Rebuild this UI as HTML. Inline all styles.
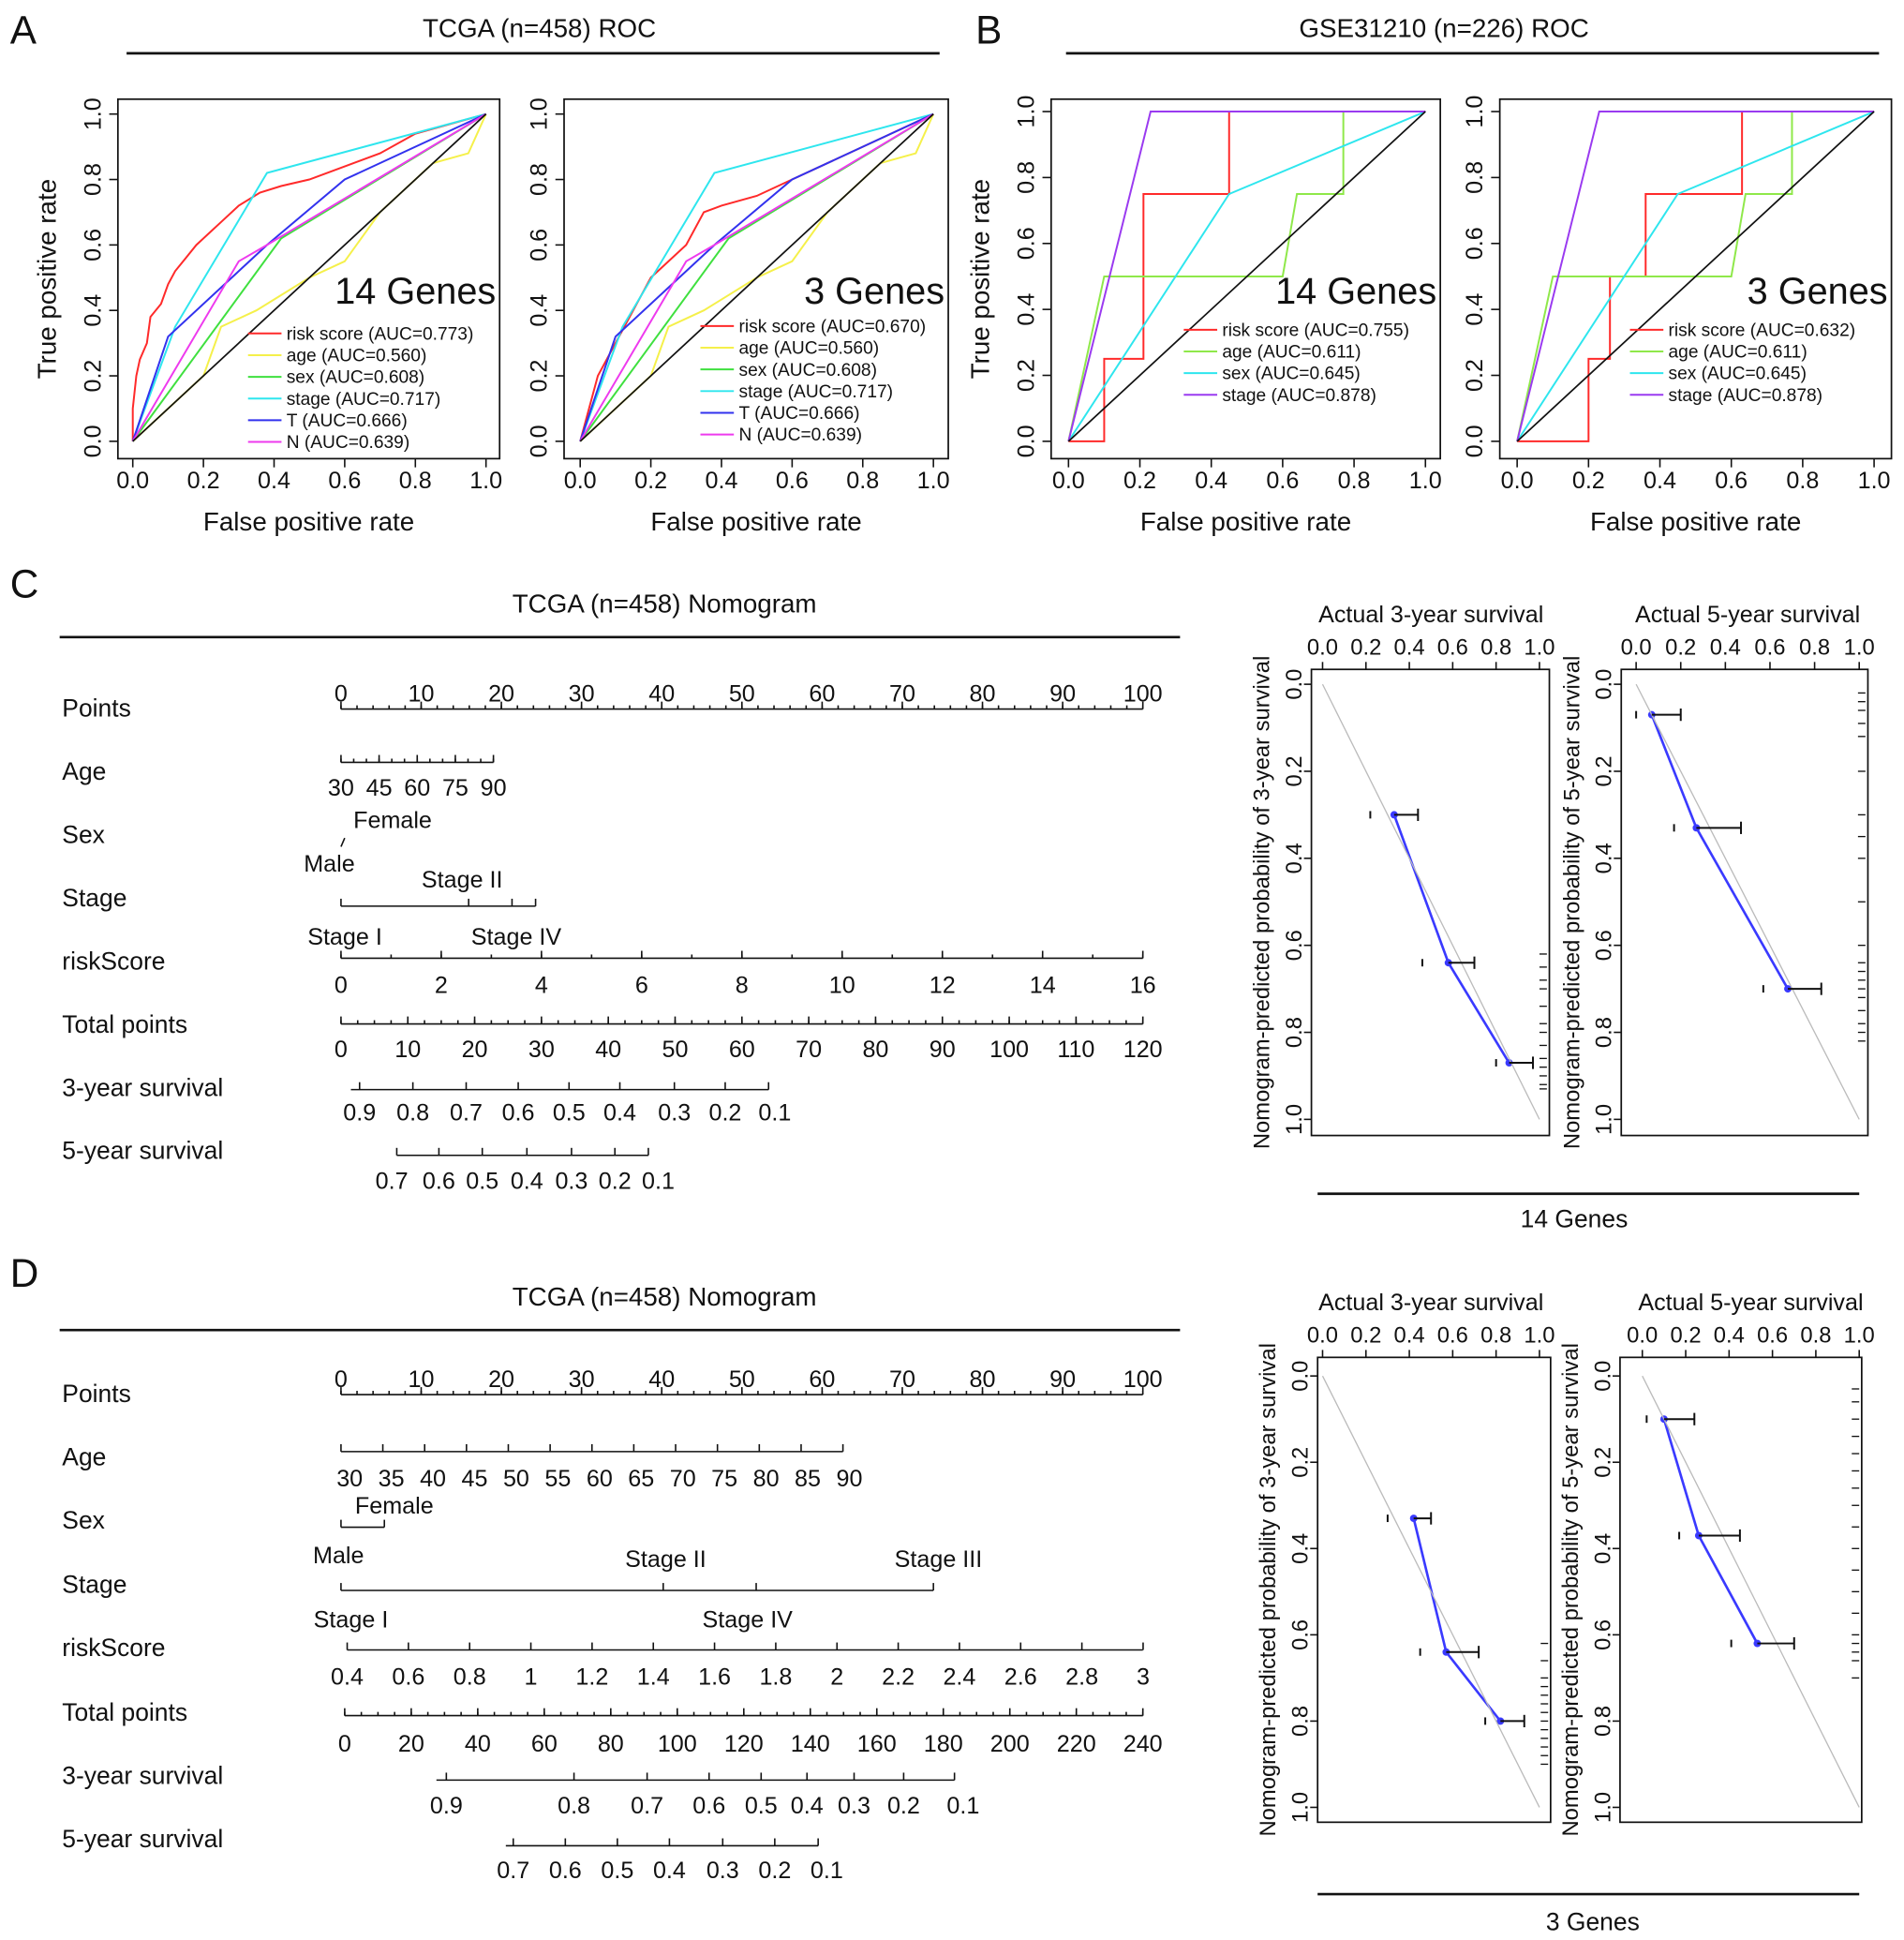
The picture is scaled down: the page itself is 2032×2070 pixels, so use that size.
<!DOCTYPE html>
<html><head><meta charset="utf-8"><style>
html,body{margin:0;padding:0;background:#fff}
svg{display:block}
text{font-family:"Liberation Sans",Arial,sans-serif;fill:#111}
</style></head><body>
<svg id="fig" width="2032" height="2070" viewBox="0 0 1536 1565" xmlns="http://www.w3.org/2000/svg"></svg>
<script>
// ===== ROC data =====
const rocRisk1=[[0,0],[0,0.1],[0.01,0.2],[0.02,0.25],[0.04,0.3],[0.05,0.38],[0.08,0.42],[0.1,0.48],[0.12,0.52],[0.15,0.56],[0.18,0.6],[0.22,0.64],[0.26,0.68],[0.3,0.72],[0.36,0.76],[0.42,0.78],[0.5,0.8],[0.6,0.84],[0.7,0.88],[0.8,0.94],[0.9,0.97],[1,1]];
const rocRisk2=[[0,0],[0.05,0.2],[0.1,0.3],[0.15,0.4],[0.2,0.5],[0.3,0.6],[0.35,0.7],[0.4,0.72],[0.5,0.75],[0.6,0.8],[0.8,0.9],[1,1]];
const rocAge=[[0,0],[0.2,0.2],[0.25,0.35],[0.35,0.4],[0.5,0.5],[0.6,0.55],[0.7,0.7],[0.85,0.85],[0.95,0.88],[1,1]];
const rocSex=[[0,0],[0.42,0.62],[1,1]];
const rocStage=[[0,0],[0.12,0.35],[0.38,0.82],[1,1]];
const rocT=[[0,0],[0.1,0.32],[0.38,0.6],[0.6,0.8],[1,1]];
const rocN=[[0,0],[0.3,0.55],[0.38,0.6],[1,1]];
const gRisk1=[[0,0],[0.1,0],[0.1,0.25],[0.21,0.25],[0.21,0.75],[0.45,0.75],[0.45,1],[1,1]];
const gRisk2=[[0,0],[0.2,0],[0.2,0.25],[0.26,0.25],[0.26,0.5],[0.36,0.5],[0.36,0.75],[0.63,0.75],[0.63,1],[1,1]];
const gAge=[[0,0],[0.1,0.5],[0.6,0.5],[0.64,0.75],[0.77,0.75],[0.77,1],[1,1]];
const gSex=[[0,0],[0.45,0.75],[1,1]];
const gStage=[[0,0],[0.23,1],[1,1]];
const rocTicks=["0.0","0.2","0.4","0.6","0.8","1.0"];
// ===== Calibration data (actual, predicted, errLo, errHi) =====
const calC3=[[0.33,0.30,0.22,0.44],[0.58,0.64,0.46,0.70],[0.86,0.87,0.80,0.97]];
const calC5=[[0.07,0.07,0.0,0.20],[0.27,0.33,0.17,0.47],[0.68,0.70,0.57,0.83]];
const calD3=[[0.42,0.33,0.30,0.50],[0.57,0.64,0.45,0.72],[0.82,0.80,0.75,0.93]];
const calD5=[[0.10,0.10,0.02,0.24],[0.26,0.37,0.17,0.45],[0.53,0.62,0.41,0.70]];
const rugC3=[0.62,0.65,0.68,0.7,0.74,0.78,0.8,0.83,0.86,0.88,0.9,0.92,0.93];
const rugC5=[0.02,0.04,0.06,0.09,0.12,0.2,0.3,0.35,0.4,0.5,0.6,0.64,0.66,0.68,0.7,0.72,0.75,0.78,0.8,0.82];
const rugD3=[0.62,0.66,0.7,0.72,0.74,0.76,0.78,0.8,0.82,0.84,0.86,0.88,0.9];
const rugD5=[0.03,0.06,0.1,0.14,0.18,0.22,0.26,0.3,0.35,0.4,0.45,0.5,0.55,0.6,0.62,0.64,0.66,0.7];

const svg=document.getElementById('fig');
const NS='http://www.w3.org/2000/svg';
function el(tag,attrs,parent,txt){const e=document.createElementNS(NS,tag);for(const k in attrs)e.setAttribute(k,attrs[k]);if(txt!==undefined)e.textContent=txt;(parent||svg).appendChild(e);return e;}
function T(x,y,s,size,name,anchor,extra){const t=el('text',Object.assign({x:x,y:y,'font-size':size,'text-anchor':anchor||'start'},extra||{}),null,s);

return t;}
function L(x1,y1,x2,y2,name,w,c){const l=el('line',{x1:x1,y1:y1,x2:x2,y2:y2,stroke:c||'#111','stroke-width':w||1.2});

return l;}

T(8,35,'A',32,'panel-label-a');T(787,35,'B',32,'panel-label-b');
T(8,482,'C',32,'panel-label-c');T(8,1038,'D',32,'panel-label-d');
T(435,30,'TCGA (n=458) ROC',21,'panel-a-title','middle');L(102,43,758,43,'panel-a-rule',2);
T(1165,30,'GSE31210 (n=226) ROC',21,'panel-b-title','middle');L(860,43,1516,43,'panel-b-rule',2);

function roc(cfg){
  const g=el('g',{});
  
  
  const sx=v=>cfg.x0+v*(cfg.x1-cfg.x0), sy=v=>cfg.y0-v*(cfg.y0-cfg.y1);
  const b=el('rect',{x:cfg.bx0,y:80,width:cfg.bx1-cfg.bx0,height:290,fill:'none',stroke:'#111','stroke-width':1.3},g);
  
  
  rocTicks.forEach((s,i)=>{const v=i/5;
    L(sx(v),370,sx(v),377,'x-tick');T(sx(v),394,s,19,'x-tick-label','middle');
    L(cfg.bx0,sy(v),cfg.bx0-7,sy(v),'y-tick');
    T(cfg.bx0-14,sy(v),s,19,'y-tick-label','middle',{transform:`rotate(-90 ${cfg.bx0-14} ${sy(v)})`});});
  T((cfg.bx0+cfg.bx1)/2,428,'False positive rate',21,'x-axis-title','middle');
  if(cfg.ytitle){const yl=cfg.bx0-50;
  T(yl,225,'True positive rate',21,'y-axis-title','middle',{transform:`rotate(-90 ${yl} 225)`});}
  L(sx(0),sy(0),sx(1),sy(1),'diagonal-reference',1.3);
  cfg.series.forEach(s=>{
    const p=el('polyline',{points:s.d.map(q=>sx(q[0])+','+sy(q[1])).join(' '),fill:'none',stroke:s.c,'stroke-width':1.5},g);
    
    
  });
  T(cfg.bx1-3,245,cfg.big,30,'gene-set-label','end');
  cfg.series.forEach((s,i)=>{const y=cfg.ly+i*17.5;
    L(cfg.lx,y-5,cfg.lx+27,y-5,'legend-swatch',1.5,s.c);
    T(cfg.lx+31,y,s.k+' (AUC='+s.auc+')',14.5,'legend-entry');});
}
const six=(risk,ar)=>[{k:'risk score',d:risk,c:'#ff2a2a',auc:ar},{k:'age',d:rocAge,c:'#f5f04a',auc:'0.560'},{k:'sex',d:rocSex,c:'#3fe03f',auc:'0.608'},{k:'stage',d:rocStage,c:'#2ee6ee',auc:'0.717'},{k:'T',d:rocT,c:'#3232ee',auc:'0.666'},{k:'N',d:rocN,c:'#ee3aee',auc:'0.639'}];
const four=(risk,ar)=>[{k:'risk score',d:risk,c:'#ff2a2a',auc:ar},{k:'age',d:gAge,c:'#8fe84a',auc:'0.611'},{k:'sex',d:gSex,c:'#2ee6ee',auc:'0.645'},{k:'stage',d:gStage,c:'#9a3af0',auc:'0.878'}];
roc({name:'roc-tcga-14genes',ytitle:true,bx0:95,bx1:403,x0:107,x1:392,y0:356,y1:92,big:'14 Genes',lx:200,ly:274,series:six(rocRisk1,'0.773')});
roc({name:'roc-tcga-3genes',ytitle:false,bx0:455,bx1:765,x0:468,x1:753,y0:356,y1:92,big:'3 Genes',lx:565,ly:268,series:six(rocRisk2,'0.670')});
roc({name:'roc-gse-14genes',ytitle:true,bx0:848,bx1:1162,x0:862,x1:1150,y0:356,y1:90,big:'14 Genes',lx:955,ly:271,series:four(gRisk1,'0.755')});
roc({name:'roc-gse-3genes',ytitle:false,bx0:1210,bx1:1526,x0:1224,x1:1512,y0:356,y1:90,big:'3 Genes',lx:1315,ly:271,series:four(gRisk2,'0.632')});

function axis(x0,x1,y,ticks,labels,ly,minor,name){
  L(x0,y,x1,y,name+'-line');
  ticks.forEach((x,i)=>{L(x,y,x,y-6,name+'-tick');if(labels[i]!==undefined&&labels[i]!=='')T(x,ly,labels[i],19,name+'-label','middle');});
  (minor||[]).forEach(x=>L(x,y,x,y-3,name+'-minor-tick'));
}
function rng(a,b,n){const r=[];for(let i=0;i<=n;i++)r.push(a+(b-a)*i/n);return r;}
const ptsLabels=['0','10','20','30','40','50','60','70','80','90','100'];
function nomo(o){
  T(536,o.ty,'TCGA (n=458) Nomogram',21,'nomogram-title','middle');L(48,o.ty+20,952,o.ty+20,'nomogram-rule',2);
  const names=['Points','Age','Sex','Stage','riskScore','Total points','3-year survival','5-year survival'];
  names.forEach((n,i)=>T(50,o.rows[i],n,20,'row-label-'+n.toLowerCase().replace(/ /g,'-')));
  axis(275,922,o.rows[0]-6,rng(275,922,10),ptsLabels,o.rows[0]-12,rng(275,922,50),'points-axis');
  o.extra();
}
nomo({ty:494,rows:[578,629,680,731,782,833,884,935],extra:()=>{
  axis(275,398,615,rng(275,398,4),['30','45','60','75','90'],642,rng(275,398,12),'age-axis');
  L(275,683,278,676,'sex-axis-line');T(285,668,'Female',19,'sex-label-female');T(245,703,'Male',19,'sex-label-male');
  L(275,731,432,731,'stage-axis-line');[275,378,413,432].forEach(x=>L(x,731,x,725,'stage-tick'));
  T(340,716,'Stage II',19,'stage-label');T(248,762,'Stage I',19,'stage-label');T(380,762,'Stage IV',19,'stage-label');
  axis(275,922,773,rng(275,922,8),['0','2','4','6','8','10','12','14','16'],801,rng(275,922,16),'riskscore-axis');
  axis(275,922,826,rng(275,922,12),['0','10','20','30','40','50','60','70','80','90','100','110','120'],853,rng(275,922,48),'total-points-axis');
  const s3=[290,333,376,418,459,500,544,585,625];L(283,879,620,879,'survival3-axis-line');
  s3.forEach((x,i)=>{L(Math.min(x,620),879,Math.min(x,620),873,'survival3-tick');T(x,904,(0.9-i*0.1).toFixed(1),19,'survival3-label','middle');});
  const s5=[316,354,389,425,461,496,531];L(320,932,523,932,'survival5-axis-line');
  s5.forEach((x,i)=>{L(Math.max(320,Math.min(x,523)),932,Math.max(320,Math.min(x,523)),926,'survival5-tick');T(x,959,(0.7-i*0.1).toFixed(1),19,'survival5-label','middle');});
}});
nomo({ty:1053,rows:[1131,1182,1233,1285,1336,1388,1439,1490],extra:()=>{
  const ag=['30','35','40','45','50','55','60','65','70','75','80','85','90'];
  axis(275,680,1171,rng(275,680,12),[],0,[],'age-axis');
  ag.forEach((s,i)=>T(282+i*33.6,1199,s,19,'age-axis-label','middle'));
  L(275,1232,310,1232,'sex-axis-line');L(310,1232,310,1226,'sex-tick');L(275,1232,275,1226,'sex-tick');
  T(318,1221,'Female',19,'sex-label-female','middle');T(273,1261,'Male',19,'sex-label-male','middle');
  L(275,1283,753,1283,'stage-axis-line');[275,535,610,753].forEach(x=>L(x,1283,x,1277,'stage-tick'));
  T(537,1264,'Stage II',19,'stage-label','middle');T(757,1264,'Stage III',19,'stage-label','middle');
  T(283,1313,'Stage I',19,'stage-label','middle');T(603,1313,'Stage IV',19,'stage-label','middle');
  const rs=[];for(let v=0.4;v<=3.001;v+=0.2)rs.push(v);
  L(280,1331,922,1331,'riskscore-axis-line');
  rs.forEach(v=>{const x=280+(v-0.4)*247;L(x,1331,x,1325,'riskscore-tick');T(x,1359,(Math.abs(v-Math.round(v))<1e-6?String(Math.round(v)):v.toFixed(1)),19,'riskscore-label','middle');});
  axis(278,922,1384,rng(278,922,12),['0','20','40','60','80','100','120','140','160','180','200','220','240'],1413,rng(278,922,48),'total-points-axis');
  const s3=[360,463,522,572,614,651,689,729,777];L(352,1436,770,1436,'survival3-axis-line');
  s3.forEach((x,i)=>{L(Math.min(x,770),1436,Math.min(x,770),1430,'survival3-tick');T(x,1463,(0.9-i*0.1).toFixed(1),19,'survival3-label','middle');});
  const s5=[414,456,498,540,583,625,667];L(408,1489,660,1489,'survival5-axis-line');
  s5.forEach((x,i)=>{L(Math.min(x,660),1489,Math.min(x,660),1483,'survival5-tick');T(x,1515,(0.7-i*0.1).toFixed(1),19,'survival5-label','middle');});
}});

function cal(o){
  const g=el('g',{});
  
  
  const sx=v=>o.x0+v*(o.x1-o.x0), sy=v=>o.y0+v*(o.y1-o.y0);
  const r=el('rect',{x:o.bx0,y:o.by0,width:o.bx1-o.bx0,height:o.by1-o.by0,fill:'none',stroke:'#111','stroke-width':1.3},g);
  
  
  T((o.x0+o.x1)/2,o.by0-38,'Actual '+o.yr+'-year survival',19,'top-axis-title','middle');
  for(let i=0;i<=5;i++){const v=i/5;
    L(sx(v),o.by0,sx(v),o.by0-6,'top-tick');T(sx(v),o.by0-12,v.toFixed(1),18,'top-tick-label','middle');
    L(o.bx0,sy(v),o.bx0-6,sy(v),'left-tick');
    T(o.bx0-8,sy(v),v.toFixed(1),18,'left-tick-label','middle',{transform:`rotate(-90 ${o.bx0-8} ${sy(v)})`});}
  const yl=o.bx0-34,cy=(o.by0+o.by1)/2;
  T(yl,cy,'Nomogram-predicted probability of '+o.yr+'-year survival',18,'left-axis-title','middle',{transform:`rotate(-90 ${yl} ${cy})`});
  L(sx(0),sy(0),sx(1),sy(1),'ideal-line',1,'#bbb');
  o.rug.forEach(v=>L(o.bx1-2,sy(v),o.bx1-8,sy(v),'rug-tick',1));
  const p=el('polyline',{points:o.d.map(q=>sx(q[0])+','+sy(q[1])).join(' '),fill:'none',stroke:'#3a3aff','stroke-width':2},g);
  
  
  o.d.forEach(q=>{const y=sy(q[1]);
    L(sx(q[0]),y,sx(q[3]),y,'error-bar',1.5);L(sx(q[3]),y-5,sx(q[3]),y+5,'error-cap',1.5);L(sx(q[2]),y-3,sx(q[2]),y+3,'error-cap',1.5);
    const c=el('circle',{cx:sx(q[0]),cy:y,r:3,fill:'#3a3aff'},g);
    
    });
}
cal({name:'calibration-c-3yr',yr:3,bx0:1058,bx1:1250,by0:540,by1:916,x0:1067,x1:1242,y0:552,y1:903,d:calC3,rug:rugC3});
cal({name:'calibration-c-5yr',yr:5,bx0:1308,bx1:1507,by0:540,by1:916,x0:1320,x1:1500,y0:552,y1:903,d:calC5,rug:rugC5});
L(1063,963,1500,963,'calibration-c-rule',2);T(1270,990,'14 Genes',20,'calibration-c-caption','middle');
cal({name:'calibration-d-3yr',yr:3,bx0:1063,bx1:1251,by0:1095,by1:1470,x0:1067,x1:1242,y0:1110,y1:1458,d:calD3,rug:rugD3});
cal({name:'calibration-d-5yr',yr:5,bx0:1307,bx1:1502,by0:1095,by1:1470,x0:1325,x1:1500,y0:1110,y1:1458,d:calD5,rug:rugD5});
L(1063,1528,1500,1528,'calibration-d-rule',2);T(1285,1557,'3 Genes',20,'calibration-d-caption','middle');
</script>
</body></html>
